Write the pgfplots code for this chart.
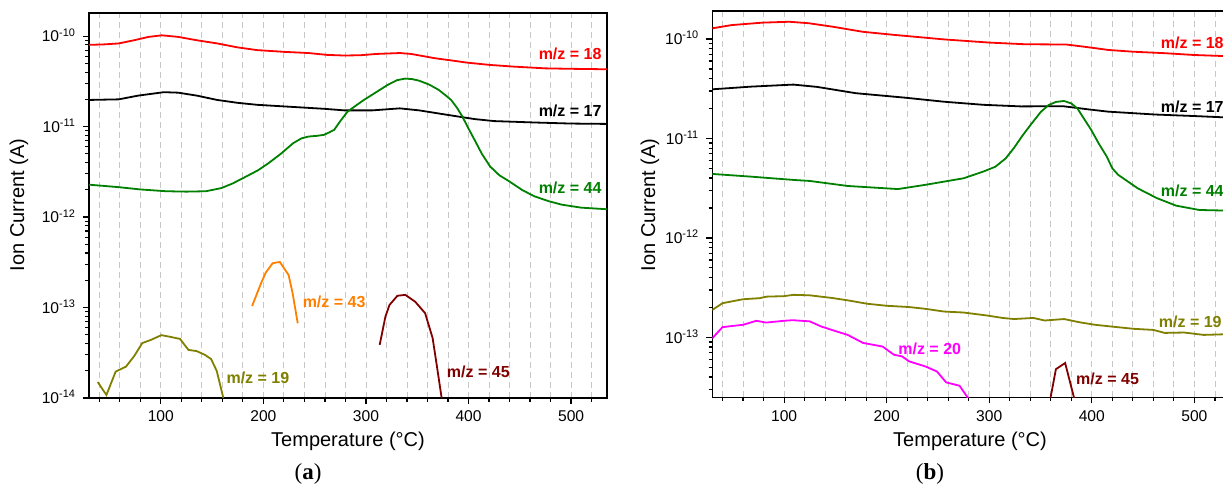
\documentclass[border=0pt]{standalone}
\usepackage{fontspec}
\setmainfont{Liberation Sans}
\newfontfamily\seriffont{Liberation Serif}
\usepackage{pgfplots}
\pgfplotsset{compat=1.18}
\definecolor{cred}{RGB}{255,0,0}
\definecolor{cgreen}{RGB}{0,128,0}
\definecolor{colive}{RGB}{128,128,0}
\definecolor{corange}{RGB}{255,128,0}
\definecolor{cdred}{RGB}{128,0,0}
\definecolor{cmag}{RGB}{255,0,255}
\pgfplotsset{
 mypanel/.style={
  scale only axis, width=259pt,
  xmin=30, xmax=535,
  axis line style={line width=0.75pt},
  tick align=outside, tick pos=left,
  xtick={100,200,300,400,500},
  minor xtick={40,60,80,120,140,160,180,220,240,260,280,320,340,360,380,420,440,460,480,520},
  xmajorgrids, xminorgrids,
  grid style={densely dashed, black!22, line width=0.4pt},
  major tick length=3pt, minor tick length=1.8pt,
  every tick/.style={black, line width=0.6pt},
  tick label style={font=\fontsize{7.8}{9}\selectfont},
  yticklabel style={anchor=base east, yshift=-2.8pt},
  every axis plot/.append style={line width=0.9pt, no markers},
 },
}
\tikzset{mylab/.style={font=\fontsize{8}{10}\selectfont\bfseries, inner sep=0pt}}
\begin{document}
\begin{tikzpicture}
% ---------------- panel (a)
\begin{semilogyaxis}[mypanel, height=192.5pt, at={(44.5pt,42.5pt)}, anchor=south west,
  /pgf/number format/assume math mode=true,
  ymin=1e-14, ymax=1.8e-10,
  ytick={1e-14,1e-13,1e-12,1e-11,1e-10},
  yticklabels={10\textsuperscript{-14},10\textsuperscript{-13},10\textsuperscript{-12},10\textsuperscript{-11},10\textsuperscript{-10}},
  minor ytick={2e-14,3e-14,4e-14,5e-14,6e-14,7e-14,8e-14,9e-14,2e-13,3e-13,4e-13,5e-13,6e-13,7e-13,8e-13,9e-13,2e-12,3e-12,4e-12,5e-12,6e-12,7e-12,8e-12,9e-12,2e-11,3e-11,4e-11,5e-11,6e-11,7e-11,8e-11,9e-11},
]
\addplot[cred] coordinates {(30,8.0e-11) (45,8.1e-11) (59,8.3e-11) (74,9.0e-11) (88,9.8e-11) (101,1.02e-10) (117,9.8e-11) (135,9.0e-11) (155,8.3e-11) (175,7.5e-11) (194,7.0e-11) (220,6.7e-11) (244,6.5e-11) (262,6.2e-11) (279,6.1e-11) (295,6.15e-11) (310,6.35e-11) (333,6.5e-11) (344,6.35e-11) (367,5.7e-11) (385,5.35e-11) (398,5.1e-11) (421,4.8e-11) (444,4.6e-11) (475,4.4e-11) (500,4.35e-11) (535,4.3e-11)};
\addplot[black] coordinates {(30,1.97e-11) (59,2.0e-11) (78,2.2e-11) (103,2.4e-11) (117,2.37e-11) (135,2.2e-11) (155,1.97e-11) (175,1.83e-11) (194,1.74e-11) (236,1.63e-11) (260,1.57e-11) (279,1.51e-11) (306,1.51e-11) (333,1.59e-11) (352,1.51e-11) (379,1.35e-11) (406,1.21e-11) (425,1.15e-11) (464,1.11e-11) (500,1.08e-11) (535,1.07e-11)};
\addplot[cgreen] coordinates {(30,2.28e-12) (59,2.14e-12) (80,2.02e-12) (105,1.93e-12) (125,1.91e-12) (144,1.93e-12) (159,2.09e-12) (170,2.35e-12) (182,2.76e-12) (195,3.3e-12) (205,3.94e-12) (217,5.0e-12) (229,6.55e-12) (237,7.4e-12) (244,7.76e-12) (252,7.9e-12) (259,8.1e-12) (264,8.6e-12) (269,9.2e-12) (275,1.15e-11) (282,1.46e-11) (290,1.7e-11) (298,1.97e-11) (310,2.4e-11) (321,2.88e-11) (330,3.25e-11) (338,3.39e-11) (345,3.35e-11) (352,3.21e-11) (362,2.9e-11) (371,2.54e-11) (378,2.2e-11) (383,1.97e-11) (389,1.6e-11) (394,1.29e-11) (400,9.5e-12) (406,7.1e-12) (413,5.0e-12) (421,3.63e-12) (430,2.9e-12) (440,2.47e-12) (452,2.0e-12) (464,1.70e-12) (478,1.5e-12) (491,1.37e-12) (510,1.27e-12) (535,1.22e-12)};
\addplot[colive] coordinates {(38.5,1.5e-14) (47,1.08e-14) (56,1.96e-14) (66,2.22e-14) (74,2.9e-14) (82,4.05e-14) (90,4.37e-14) (100.5,4.95e-14) (109,4.75e-14) (118.7,4.5e-14) (127,3.4e-14) (135,3.3e-14) (143,3.0e-14) (149,2.7e-14) (154.5,2.0e-14) (161,1.0e-14)};
\addplot[corange] coordinates {(189,1.04e-13) (197.7,1.85e-13) (202.3,2.43e-13) (209,3.09e-13) (216,3.19e-13) (224.6,2.29e-13) (228.5,1.44e-13) (233.5,6.7e-14)};
\addplot[cdred] coordinates {(313.4,3.87e-14) (319,7.96e-14) (323,1.07e-13) (330.7,1.35e-13) (338.4,1.38e-13) (348,1.16e-13) (357.7,8.66e-14) (365,4.6e-14) (369.2,2.24e-14) (373.8,1.0e-14)};
\node[mylab, text=cred, anchor=east] at (axis cs:530,6.3e-11) {m/z = 18};
\node[mylab, text=black, anchor=east] at (axis cs:530,1.49e-11) {m/z = 17};
\node[mylab, text=cgreen, anchor=east] at (axis cs:530,2.09e-12) {m/z = 44};
\node[mylab, text=corange, anchor=west] at (axis cs:238,1.16e-13) {m/z = 43};
\node[mylab, text=colive, anchor=west] at (axis cs:163.7,1.66e-14) {m/z = 19};
\node[mylab, text=cdred, anchor=west] at (axis cs:378.6,1.95e-14) {m/z = 45};
\end{semilogyaxis}
% ---------------- panel (b)
\begin{semilogyaxis}[mypanel, height=193.15pt, at={(356.15pt,42.85pt)}, anchor=south west,
  /pgf/number format/assume math mode=true,
  ymin=2.5e-14, ymax=1.91e-10,
  ytick={1e-13,1e-12,1e-11,1e-10},
  yticklabels={10\textsuperscript{-13},10\textsuperscript{-12},10\textsuperscript{-11},10\textsuperscript{-10}},
  minor ytick={3e-14,4e-14,5e-14,6e-14,7e-14,8e-14,9e-14,2e-13,3e-13,4e-13,5e-13,6e-13,7e-13,8e-13,9e-13,2e-12,3e-12,4e-12,5e-12,6e-12,7e-12,8e-12,9e-12,2e-11,3e-11,4e-11,5e-11,6e-11,7e-11,8e-11,9e-11},
]
\addplot[cred] coordinates {(30,1.28e-10) (49,1.38e-10) (79,1.46e-10) (105,1.49e-10) (124,1.44e-10) (147,1.33e-10) (177,1.18e-10) (207,1.10e-10) (256,9.9e-11) (300,9.2e-11) (335,8.85e-11) (375,8.8e-11) (395,8.3e-11) (416,7.76e-11) (440,7.45e-11) (471,7.2e-11) (500,6.9e-11) (535,6.7e-11)};
\addplot[black] coordinates {(30,3.12e-11) (68,3.32e-11) (109,3.48e-11) (132,3.3e-11) (170,2.85e-11) (218,2.57e-11) (256,2.34e-11) (294,2.18e-11) (331,2.1e-11) (372,2.11e-11) (395,1.97e-11) (416,1.86e-11) (462,1.74e-11) (500,1.68e-11) (535,1.62e-11)};
\addplot[cgreen] coordinates {(30,4.4e-12) (68,4.13e-12) (109,3.83e-12) (125,3.74e-12) (162,3.33e-12) (211,3.1e-12) (237,3.41e-12) (275,3.98e-12) (294,4.64e-12) (306,5.2e-12) (316,6.3e-12) (324,8.0e-12) (331.6,1.04e-11) (341,1.4e-11) (350.5,1.86e-11) (358,2.17e-11) (365,2.33e-11) (373,2.38e-11) (380,2.25e-11) (386,2.0e-11) (392,1.6e-11) (399.4,1.22e-11) (407,8.8e-12) (414.5,6.6e-12) (420,5.0e-12) (425.8,4.3e-12) (435,3.7e-12) (444.6,3.16e-12) (463.5,2.51e-12) (482.3,2.11e-12) (504.9,1.91e-12) (535,1.88e-12)};
\addplot[colive] coordinates {(30,1.89e-13) (40,2.21e-13) (60,2.42e-13) (76,2.48e-13) (83,2.57e-13) (100,2.6e-13) (109,2.68e-13) (125,2.65e-13) (147,2.49e-13) (162,2.36e-13) (181,2.18e-13) (200,2.08e-13) (222,2.02e-13) (237.5,1.94e-13) (256,1.82e-13) (275,1.78e-13) (298,1.66e-13) (313,1.57e-13) (324,1.53e-13) (343,1.57e-13) (354,1.48e-13) (373,1.53e-13) (388,1.42e-13) (403,1.34e-13) (418,1.29e-13) (441,1.22e-13) (460,1.19e-13) (471,1.11e-13) (490,1.12e-13) (509,1.06e-13) (535,1.08e-13)};
\addplot[cmag] coordinates {(30,9.8e-14) (40,1.27e-13) (60,1.34e-13) (73,1.47e-13) (82.5,1.41e-13) (100,1.47e-13) (108.6,1.49e-13) (125,1.45e-13) (136,1.29e-13) (151,1.15e-13) (162,1.06e-13) (177,8.8e-14) (196,8.1e-14) (207,6.7e-14) (215,6.45e-14) (222,5.74e-14) (237.5,5.12e-14) (249,4.55e-14) (258,3.53e-14) (271,3.27e-14) (280,2.4e-14)};
\addplot[cdred] coordinates {(359.5,2.4e-14) (365,4.8e-14) (374,5.53e-14) (383,2.4e-14)};
\node[mylab, text=cred, anchor=west] at (axis cs:467,9.05e-11) {m/z = 18};
\node[mylab, text=black, anchor=west] at (axis cs:467,2.07e-11) {m/z = 17};
\node[mylab, text=cgreen, anchor=west] at (axis cs:467,2.99e-12) {m/z = 44};
\node[mylab, text=colive, anchor=west] at (axis cs:465,1.42e-13) {m/z = 19};
\node[mylab, text=cmag, anchor=west] at (axis cs:211,7.76e-14) {m/z = 20};
\node[mylab, text=cdred, anchor=west] at (axis cs:384.4,3.82e-14) {m/z = 45};
\end{semilogyaxis}
% ---------------- outer labels
\node[font=\fontsize{10}{12}\selectfont, anchor=base] at (174pt,18.5pt) {Temperature (°C)};
\node[font=\fontsize{10}{12}\selectfont, anchor=base] at (485pt,18.5pt) {Temperature (°C)};
\node[font=\fontsize{10}{12}\selectfont, rotate=90] at (9.5pt,139pt) {Ion Current (A)};
\node[font=\fontsize{10}{12}\selectfont, rotate=90] at (325pt,139pt) {Ion Current (A)};
\node[font=\fontsize{11.5}{13}\seriffont] at (154pt,4.5pt) {(\textbf{a})};
\node[font=\fontsize{11.5}{13}\seriffont] at (465pt,4.5pt) {(\textbf{b})};
\pgfresetboundingbox
\useasboundingbox (0,0) rectangle (611.5pt,241.5pt);
\end{tikzpicture}
\end{document}
